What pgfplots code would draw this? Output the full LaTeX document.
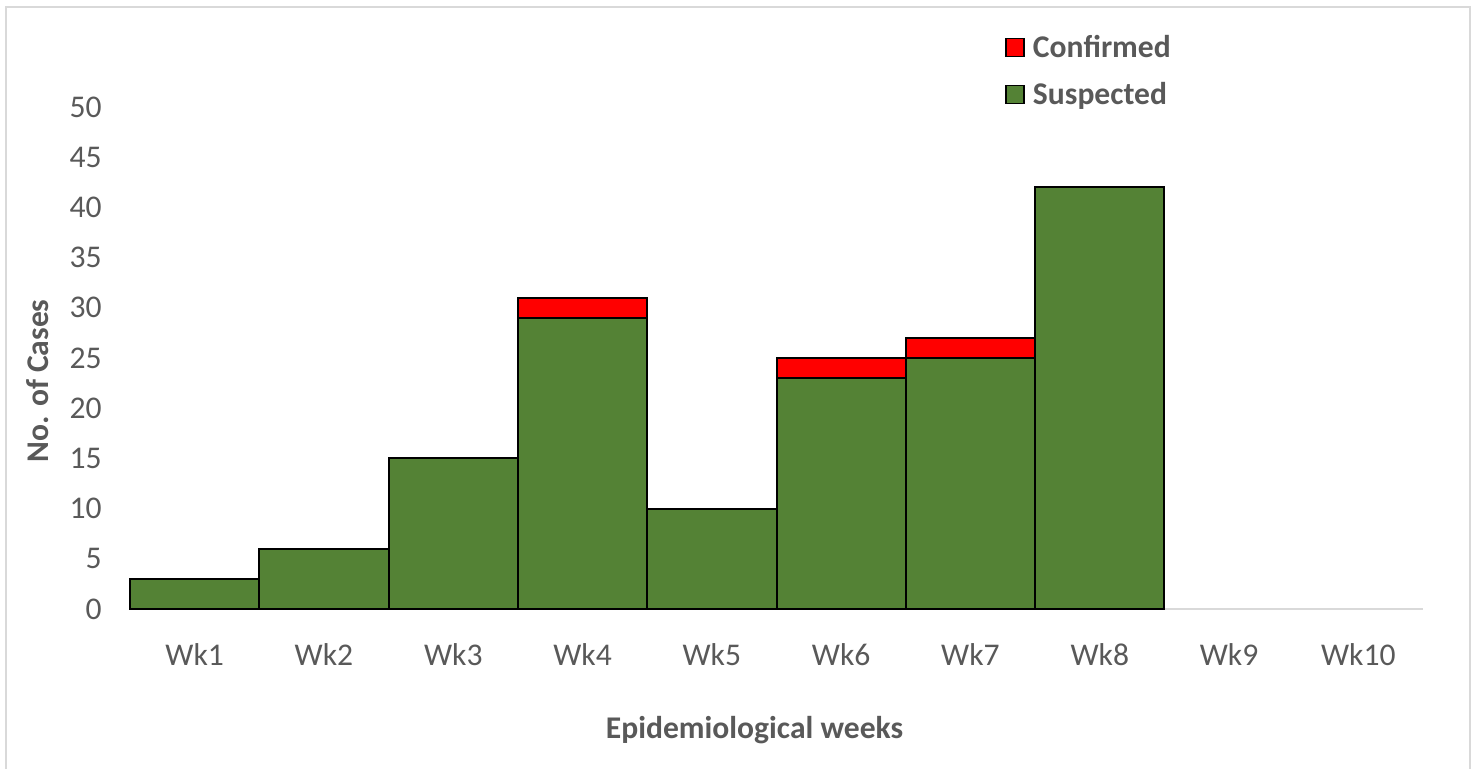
\documentclass[border=0pt]{standalone}
\usepackage{pgfplots}
\pgfplotsset{compat=1.18}
\usepackage{fontspec}
\setmainfont{Carlito}
\definecolor{txtgray}{HTML}{595959}
\definecolor{linegray}{HTML}{D9D9D9}
\definecolor{suspgreen}{HTML}{548235}
\definecolor{confred}{HTML}{FF0000}
\begin{document}
\begin{tikzpicture}
\useasboundingbox (0pt,0pt) rectangle (738.5pt,384.5pt);
\draw[linegray, line width=1pt] (3pt,-3pt) -- (3pt,381pt) -- (735pt,381pt) -- (735pt,-3pt);
\begin{axis}[
  at={(65pt,80pt)}, anchor=south west,
  scale only axis, width=646.5pt, height=251pt,
  ybar stacked, bar width=1,
  xmin=0.5, xmax=10.5, ymin=0, ymax=50,
  xtick={1,...,10},
  xticklabels={Wk1,Wk2,Wk3,Wk4,Wk5,Wk6,Wk7,Wk8,Wk9,Wk10},
  ytick={0,5,...,50},
  major tick length=0pt,
  axis x line*=bottom, axis y line*=left,
  axis line style={-},
  x axis line style={draw=linegray, line width=1pt},
  y axis line style={draw=none},
  /pgf/number format/assume math mode=true,
  tick label style={font=\fontsize{15.8}{18}\selectfont, text=txtgray},
  yticklabel style={anchor=east, inner sep=0pt, xshift=-14pt},
  xticklabel style={anchor=center, inner sep=0pt, yshift=-23pt},
  xlabel={Epidemiological weeks},
  ylabel={No. of Cases},
  every axis x label/.style={at={(axis description cs:0.483,-0.241)}, anchor=center,
     font=\bfseries\fontsize{15.8}{18}\selectfont, text=txtgray},
  every axis y label/.style={at={(axis description cs:-0.0711,0.454)}, rotate=90, anchor=center,
     font=\bfseries\fontsize{15.8}{18}\selectfont, text=txtgray},
  clip=false,
  reverse legend,
  legend style={at={(axis description cs:0.6767,1.152)}, anchor=north west,
    draw=none, fill=none, inner sep=0pt,
    font=\bfseries\fontsize{15.8}{18}\selectfont, text=txtgray,
    row sep=7pt},
  legend cell align=left,
  legend image code/.code={\draw[#1, draw=black, line width=0.6pt] (0pt,-4.5pt) rectangle (9pt,4.5pt); \path (11pt,0pt);},
]
\addplot+[fill=suspgreen, draw=black, line width=1pt] coordinates {(1,3) (2,6) (3,15) (4,29) (5,10) (6,23) (7,25) (8,42)};
\addplot+[fill=confred, draw=black, line width=1pt] coordinates {(1,0) (2,0) (3,0) (4,2) (5,0) (6,2) (7,2) (8,0)};
\legend{Suspected, Confirmed}
\end{axis}
\end{tikzpicture}
\end{document}
